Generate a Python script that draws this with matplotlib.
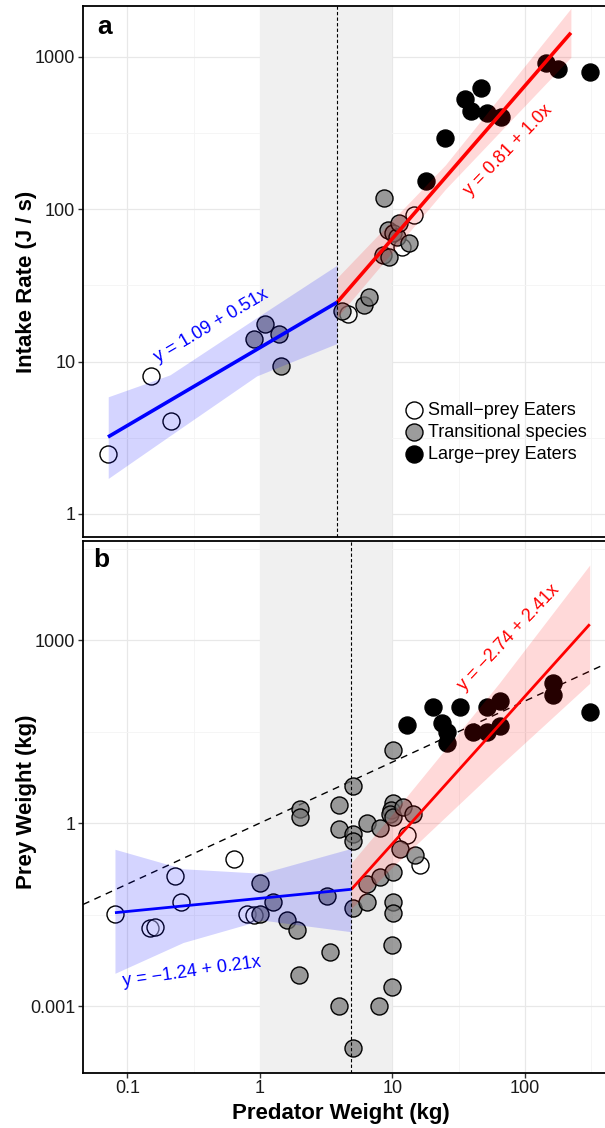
import numpy as np
import matplotlib.pyplot as plt

plt.rcParams['font.family'] = ['Liberation Sans', 'DejaVu Sans']

# ---------------- panel a : intake rate vs predator weight ----------------
a_small_pred = [0.0713, 0.151, 0.212, 4.59, 11.9, 14.5]
a_small_rate = [2.46, 8.0, 4.05, 20.5, 56.1, 91]
a_trans_pred = [0.906, 1.10, 1.39, 1.44, 4.14, 6.06, 6.61, 8.44, 8.58, 9.25,
                9.46, 10.1, 10.8, 11.2, 13.4]
a_trans_rate = [14.0, 17.6, 15.1, 9.34, 21.5, 23.4, 26.6, 49.9, 119, 72.8,
                48.2, 69.9, 65.8, 80.5, 59.5]
a_large_pred = [17.8, 25.0, 35.2, 39.1, 46.5, 51.4, 65.6, 144, 176.5, 308]
a_large_rate = [153, 291, 529, 440, 618, 428, 399, 902, 824, 791]

a_break = 3.83
# fitted segments (end points) and their confidence ribbons
a_low_x = [0.0713, a_break]
a_low_y = [3.20, 24.5]
a_high_x = [a_break, 222]
a_high_y = [24.5, 1432]
a_low_band_x = [0.0716, 0.209, 0.944, a_break]
a_low_band_lo = [1.71, 3.26, 8.04, 13.15]
a_low_band_hi = [5.87, 8.17, 19.4, 42.95]
a_high_band_x = [a_break, 25.1, 222]
a_high_band_lo = [19.5, 135, 989]
a_high_band_hi = [35.5, 195, 2070]

# ---------------- panel b : prey weight vs predator weight ----------------
b_small_pred = [0.0805, 0.148, 0.161, 0.228, 0.254, 0.64, 0.794, 0.906, 12.8, 16.1]
b_small_prey = [0.0322, 0.0188, 0.020, 0.135, 0.0513, 0.254, 0.0324, 0.031, 0.635, 0.205]
b_trans_pred = [1.0, 1.0, 1.25, 1.59, 1.91, 1.98, 2.0, 2.0, 3.18, 3.37,
                3.96, 3.96, 3.96, 5.06, 5.06, 5.06, 5.06, 5.01, 6.46, 6.46,
                6.46, 7.91, 8.05, 8.05, 10.1, 10.1, 9.77, 9.55, 10.1, 12.1,
                14.4, 11.4, 14.8, 10.1, 10.1, 10.1, 9.95, 9.95]
b_trans_prey = [0.1026, 0.0318, 0.0513, 0.0257, 0.0174, 0.00324, 1.68, 1.27, 0.0635, 0.00759,
                2.0, 0.798, 0.00101, 4.05, 0.661, 0.513, 0.0398, 0.000204, 1.01, 0.102,
                0.0513, 0.00101, 0.818, 0.129, 15.7, 2.1, 1.63, 1.41, 1.27, 1.85,
                1.41, 0.372, 0.299, 0.159, 0.0513, 0.0331, 0.0101, 0.00204]
b_large_pred = [308, 164, 164, 64.7, 64.7, 51.4, 51.4, 40.7, 32.3, 20.3,
                23.5, 25.6, 25.6, 12.8]
b_large_prey = [66.8, 200, 125, 101, 39.4, 80.7, 31.4, 31.4, 80.7, 80.7,
                44.1, 31.4, 20.2, 40.5]

b_break = 4.9
b_low_x = [0.0805, b_break]
b_low_y = [0.0339, 0.082]
b_high_x = [b_break, 308]
b_high_y = [0.082, 1811]
b_low_band_x = [0.0805, 0.263, 1.03, b_break]
b_low_band_lo = [0.00344, 0.011, 0.0257, 0.0165]
b_low_band_hi = [0.371, 0.178, 0.150, 0.385]
b_high_band_x = [b_break, 10, 63.1, 308]
b_high_band_lo = [0.0398, 0.19, 8.3, 195]
b_high_band_hi = [0.224, 1.41, 190, 17000]

# axis ticks
x_ticks = [0.1, 1, 10, 100]
x_labels = ['0.1', '1', '10', '100']
x_minor = [10 ** -0.5, 10 ** 0.5, 10 ** 1.5, 10 ** 2.5]
a_yticks = [1, 10, 100, 1000]
a_ylabels = ['1', '10', '100', '1000']
a_yminor = [10 ** 0.5, 10 ** 1.5, 10 ** 2.5]
b_yticks = [0.001, 1, 1000]
b_ylabels = ['0.001', '1', '1000']
b_yminor = [10 ** -1.5, 10 ** 1.5, 10 ** 4.5]

labels = ['Small\u2212prey Eaters', 'Transitional species', 'Large\u2212prey Eaters']

GREY = (0.45, 0.45, 0.45, 0.7)
WHITE = (1, 1, 1, 0.4)
MS = 150


def style_axes(ax, ylim, yticks, ylabels, yminor):
    ax.set_xscale('log')
    ax.set_yscale('log')
    ax.set_xlim(0.0462, 401.5)
    ax.set_ylim(*ylim)
    ax.set_xticks(x_ticks, x_labels)
    ax.set_xticks(x_minor, minor=True)
    ax.set_yticks(yticks, ylabels)
    ax.set_yticks(yminor, minor=True)
    ax.tick_params(which='minor', length=0, labelleft=False, labelbottom=False)
    ax.tick_params(which='major', length=3.5, width=1, labelsize=13,
                   color='#333333', labelcolor='#1a1a1a', pad=2)
    ax.set_axisbelow(True)
    ax.grid(which='major', color='#e8e8e8', lw=0.9)
    ax.grid(which='minor', color='#f4f4f4', lw=0.6)
    for side in ['left', 'top', 'bottom']:
        ax.spines[side].set_linewidth(1.3)
    ax.spines['right'].set_visible(False)
    ax.axvspan(1, 10, color='#f0f0f0', lw=0, zorder=0.8)


def draw_points(ax, sx, sy, tx, ty, lx, ly):
    h1 = ax.scatter(sx, sy, s=MS, facecolor=WHITE, edgecolor='black', lw=1, zorder=2)
    h2 = ax.scatter(tx, ty, s=MS, facecolor=GREY, edgecolor='black', lw=1, zorder=2)
    h3 = ax.scatter(lx, ly, s=MS, facecolor='black', edgecolor='black', lw=1, zorder=2)
    return [h1, h2, h3]


fig = plt.figure(figsize=(6.05, 11.28), dpi=100)
ax_a = fig.add_axes([0.1372, 0.5239, 0.8628, 0.4707])
ax_b = fig.add_axes([0.1372, 0.0490, 0.8628, 0.4714])

# ---- panel a ----
style_axes(ax_a, (0.706, 2143), a_yticks, a_ylabels, a_yminor)
ax_a.tick_params(axis='x', which='both', length=0, labelbottom=False)
handles = draw_points(ax_a, a_small_pred, a_small_rate, a_trans_pred, a_trans_rate,
                      a_large_pred, a_large_rate)
ax_a.fill_between(a_low_band_x, a_low_band_lo, a_low_band_hi, color='blue', alpha=0.17, lw=0, zorder=3)
ax_a.fill_between(a_high_band_x, a_high_band_lo, a_high_band_hi, color='red', alpha=0.15, lw=0, zorder=3)
ax_a.plot(a_low_x, a_low_y, color='blue', lw=2.6, zorder=4, solid_capstyle='butt')
ax_a.plot(a_high_x, a_high_y, color='red', lw=2.6, zorder=4, solid_capstyle='butt')
ax_a.axvline(a_break, color='black', lw=0.8, ls=(0, (3, 2)), zorder=4)
ax_a.text(0.432, 17.1, 'y = 1.09 + 0.51x', color='blue', fontsize=13, rotation=30.5,
          rotation_mode='anchor', ha='center', va='center', zorder=5)
ax_a.text(74.5, 244, 'y = 0.81 + 1.0x', color='red', fontsize=13, rotation=46,
          rotation_mode='anchor', ha='center', va='center', zorder=5)
ax_a.text(0.027, 0.947, 'a', transform=ax_a.transAxes, fontsize=19, fontweight='bold', va='baseline')
ax_a.set_ylabel('Intake Rate (J / s)', fontsize=16, fontweight='bold')
ax_a.yaxis.set_label_coords(-0.088, 0.48)
ax_a.legend(handles, labels, loc='upper left', bbox_to_anchor=(0.617, 0.255), frameon=False,
            fontsize=13, handlelength=1.0, handletextpad=0.25, labelspacing=0.28,
            borderpad=0, borderaxespad=0, scatterpoints=1)

# ---- panel b ----
style_axes(ax_b, (8.07e-5, 42000), b_yticks, b_ylabels, b_yminor)
ax_b.axline((1, 1), (10, 10), color='black', lw=1, ls=(0, (5, 4)), zorder=1.5)
draw_points(ax_b, b_small_pred, b_small_prey, b_trans_pred, b_trans_prey,
            b_large_pred, b_large_prey)
ax_b.fill_between(b_low_band_x, b_low_band_lo, b_low_band_hi, color='blue', alpha=0.17, lw=0, zorder=3)
ax_b.fill_between(b_high_band_x, b_high_band_lo, b_high_band_hi, color='red', alpha=0.15, lw=0, zorder=3)
ax_b.plot(b_low_x, b_low_y, color='blue', lw=2.0, zorder=4, solid_capstyle='butt')
ax_b.plot(b_high_x, b_high_y, color='red', lw=2.0, zorder=4, solid_capstyle='butt')
ax_b.axvline(b_break, color='black', lw=0.8, ls=(0, (3, 2)), zorder=4)
ax_b.text(0.305, 0.0036, 'y = \u22121.24 + 0.21x', color='blue', fontsize=13, rotation=8,
          rotation_mode='anchor', ha='center', va='center', zorder=5)
ax_b.text(74.8, 1099, 'y = \u22122.74 + 2.41x', color='red', fontsize=13, rotation=46.5,
          rotation_mode='anchor', ha='center', va='center', zorder=5)
ax_b.text(0.019, 0.951, 'b', transform=ax_b.transAxes, fontsize=19, fontweight='bold', va='baseline')
ax_b.set_ylabel('Prey Weight (kg)', fontsize=16, fontweight='bold')
ax_b.yaxis.set_label_coords(-0.088, 0.51)
ax_b.set_xlabel('Predator Weight (kg)', fontsize=16, fontweight='bold')
ax_b.xaxis.set_label_coords(0.494, -0.057)

fig.savefig('out.png', dpi=100)
